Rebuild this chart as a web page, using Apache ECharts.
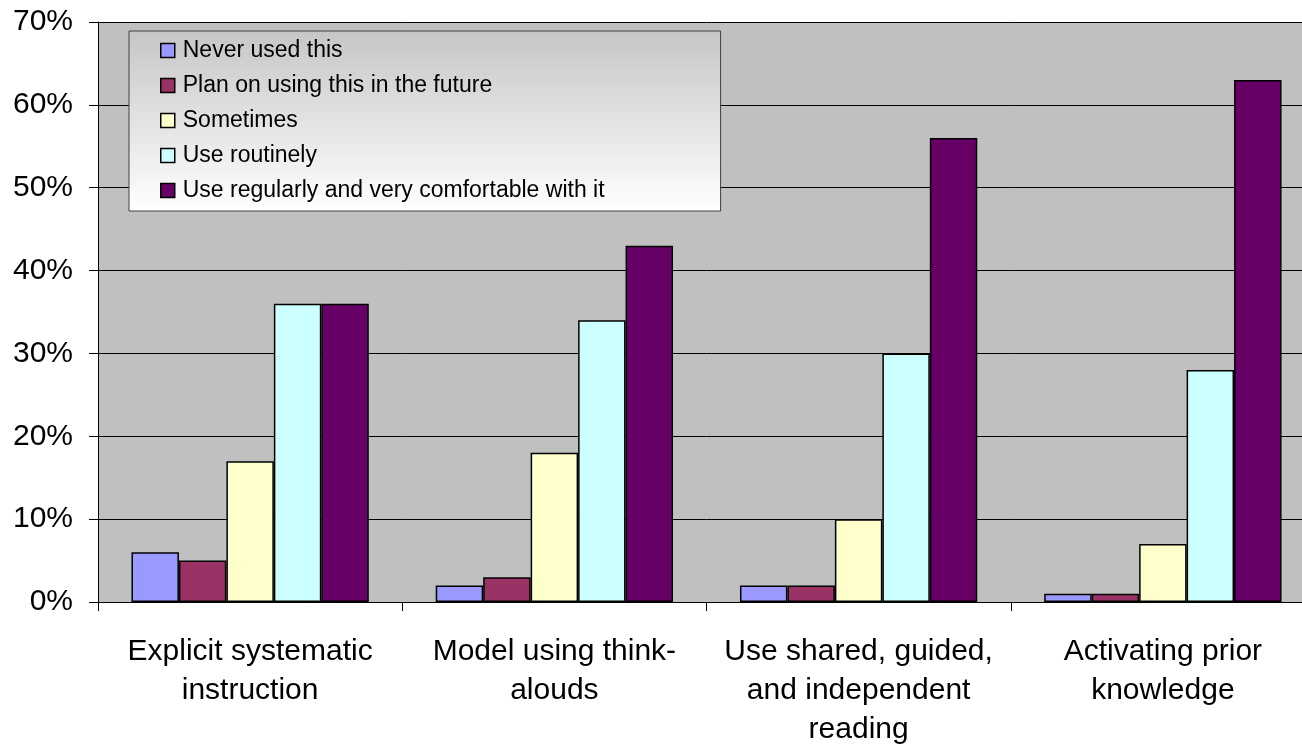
<!DOCTYPE html>
<html>
<head>
<meta charset="utf-8">
<script src="https://cdn.jsdelivr.net/npm/echarts@6/dist/echarts.min.js"></script>
<style>
  html, body { margin: 0; padding: 0; background: #fff; overflow: hidden; }
  #chart { width: 1315px; height: 749px; }
</style>
</head>
<body>
<div id="chart"></div>
<script>
var categories = [
  'Explicit systematic\ninstruction',
  'Model using think-\nalouds',
  'Use shared, guided,\nand independent\nreading',
  'Activating prior\nknowledge'
];
var seriesNames = [
  'Never used this',
  'Plan on using this in the future',
  'Sometimes',
  'Use routinely',
  'Use regularly and very comfortable with it'
];
var neverUsed = [6, 2, 2, 1];
var planOnUsing = [5, 3, 2, 1];
var sometimes = [17, 18, 10, 7];
var routinely = [36, 34, 30, 28];
var regularly = [36, 43, 56, 63];
var yTicks = [0, 10, 20, 30, 40, 50, 60, 70];

var colors = ['#9999FF', '#993366', '#FFFFCC', '#CCFFFF', '#660066'];
var values = [neverUsed, planOnUsing, sometimes, routinely, regularly];

var myChart = echarts.init(document.getElementById('chart'));

var series = seriesNames.map(function (name, i) {
  return {
    name: name,
    type: 'bar',
    data: values[i],
    barGap: '0%',
    barCategoryGap: '22%',
    itemStyle: { color: colors[i], borderColor: '#000', borderWidth: 1.5 }
  };
});

var option = {
  animation: false,
  textStyle: { fontFamily: 'Liberation Sans, Arial, sans-serif' },
  grid: {
    left: 98, top: 22, right: 0, bottom: 147,
    show: true, backgroundColor: '#C0C0C0', borderWidth: 0
  },
  legend: {
    orient: 'vertical',
    left: 129,
    top: 31,
    padding: [8, 116, 9, 31],
    itemGap: 12,
    itemWidth: 14,
    itemHeight: 14,
    icon: 'rect',
    backgroundColor: new echarts.graphic.LinearGradient(0, 0, 0, 1, [
      { offset: 0, color: '#C6C6C6' },
      { offset: 1, color: '#FFFFFF' }
    ]),
    borderColor: '#404040',
    borderWidth: 1,
    borderRadius: 0,
    itemStyle: { borderColor: '#000', borderWidth: 1.5 },
    textStyle: { fontSize: 23, color: '#000', padding: [0, 0, 0, 3] },
    data: seriesNames
  },
  xAxis: {
    type: 'category',
    data: categories,
    axisLine: { show: true, lineStyle: { color: '#000', width: 1 } },
    axisTick: { show: true, length: 9, lineStyle: { color: '#000' } },
    axisLabel: { interval: 0, fontSize: 30, lineHeight: 39, color: '#000', margin: 30 }
  },
  yAxis: {
    type: 'value',
    min: yTicks[0],
    max: yTicks[yTicks.length - 1],
    interval: 10,
    axisLine: { show: true, lineStyle: { color: '#000', width: 1 } },
    axisTick: { show: true, length: 9, lineStyle: { color: '#000' } },
    axisLabel: { formatter: '{value}%', fontSize: 30, color: '#000', margin: 25 },
    splitLine: { show: true, lineStyle: { color: '#000', width: 1 } }
  },
  series: series
};
myChart.setOption(option);
</script>
</body>
</html>
